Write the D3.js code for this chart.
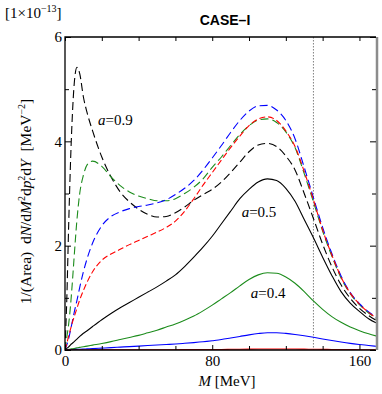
<!DOCTYPE html>
<html>
<head>
<meta charset="utf-8">
<script src="https://cdn.jsdelivr.net/npm/d3@7"></script>
<style>
body { margin: 0; background: #fff; }
text { font-family: "Liberation Serif", "Times New Roman", serif; }
</style>
</head>
<body>
<script>
// pair mass M [MeV], shared grid for all curves
var massGrid = [0, 1, 2, 3, 4, 5, 6.5, 8, 10, 12, 15, 20, 25, 30, 35, 40, 45, 50, 55, 60, 65,
                70, 75, 80, 85, 90, 95, 100, 105, 110, 115, 120, 125, 130, 135, 140, 145, 150, 155, 160, 165, 169];

// yields in units of 1e-13
var blackDashed = [0, 1.0, 2.4, 3.6, 4.5, 5.1, 5.42, 5.3, 4.85, 4.55, 4.2, 3.7, 3.32, 3.03, 2.84, 2.7, 2.6, 2.55, 2.56, 2.63, 2.74,
                   2.87, 2.98, 3.08, 3.22, 3.4, 3.6, 3.8, 3.93, 3.96, 3.9, 3.72, 3.45, 3.0, 2.52, 2.03, 1.6, 1.25, 0.99, 0.8, 0.66, 0.57];
var greenDashed = [0, 0.25, 0.5, 0.85, 1.3, 1.8, 2.5, 3.0, 3.35, 3.55, 3.62, 3.52, 3.32, 3.15, 3.03, 2.95, 2.9, 2.86, 2.86, 2.9, 3.0,
                   3.12, 3.28, 3.5, 3.7, 3.92, 4.13, 4.3, 4.41, 4.43, 4.36, 4.18, 3.88, 3.38, 2.84, 2.28, 1.8, 1.38, 1.08, 0.87, 0.71, 0.61];
var blueDashed = [0, 0.1, 0.22, 0.38, 0.55, 0.72, 0.95, 1.2, 1.5, 1.75, 2.05, 2.38, 2.56, 2.65, 2.71, 2.75, 2.78, 2.82, 2.88, 2.98, 3.1,
                  3.25, 3.45, 3.68, 3.92, 4.17, 4.4, 4.58, 4.68, 4.69, 4.6, 4.4, 4.05, 3.5, 2.92, 2.35, 1.85, 1.42, 1.1, 0.89, 0.73, 0.63];
var redDashed = [0, 0.13, 0.27, 0.4, 0.53, 0.64, 0.8, 0.96, 1.14, 1.3, 1.5, 1.72, 1.84, 1.93, 2.02, 2.1, 2.18, 2.26, 2.35, 2.47, 2.66,
                 2.9, 3.16, 3.4, 3.64, 3.88, 4.1, 4.3, 4.43, 4.47, 4.4, 4.2, 3.9, 3.42, 2.88, 2.3, 1.82, 1.4, 1.09, 0.88, 0.72, 0.62];
var blackSolid = [0, 0.03, 0.06, 0.1, 0.13, 0.16, 0.21, 0.26, 0.32, 0.37, 0.45, 0.58, 0.7, 0.81, 0.91, 1.01, 1.11, 1.21, 1.32, 1.44, 1.6,
                  1.78, 1.97, 2.18, 2.42, 2.66, 2.9, 3.08, 3.22, 3.28, 3.25, 3.1, 2.85, 2.5, 2.15, 1.78, 1.43, 1.12, 0.9, 0.74, 0.6, 0.52];
var greenSolid = [0, 0.006, 0.012, 0.018, 0.024, 0.03, 0.04, 0.05, 0.062, 0.075, 0.094, 0.125, 0.16, 0.2, 0.24, 0.28, 0.33, 0.38, 0.44, 0.5, 0.57,
                  0.65, 0.75, 0.86, 0.98, 1.1, 1.23, 1.35, 1.44, 1.48, 1.47, 1.4, 1.28, 1.12, 0.94, 0.78, 0.64, 0.53, 0.44, 0.37, 0.31, 0.27];
var blueSolid = [0, 0.002, 0.004, 0.006, 0.008, 0.01, 0.012, 0.015, 0.018, 0.022, 0.027, 0.036, 0.045, 0.055, 0.065, 0.075, 0.085, 0.095, 0.105, 0.115, 0.128,
                 0.142, 0.158, 0.178, 0.2, 0.23, 0.26, 0.29, 0.315, 0.33, 0.33, 0.318, 0.298, 0.272, 0.243, 0.212, 0.182, 0.153, 0.127, 0.105, 0.085, 0.072];
var redSolid = [0, 0, 0, 0, 0, 0.001, 0.001, 0.001, 0.001, 0.001, 0.002, 0.002, 0.003, 0.003, 0.004, 0.004, 0.005, 0.005, 0.006, 0.006, 0.007,
                0.008, 0.009, 0.01, 0.011, 0.013, 0.015, 0.017, 0.019, 0.02, 0.02, 0.019, 0.018, 0.016, 0.014, 0.012, 0.011, 0.009, 0.008, 0.006, 0.005, 0.004];

var xTicks = [0, 80, 160];
var yTicks = [0, 2, 4, 6];
var pionMass = 135;

var margin = {top: 37, right: 6, bottom: 44, left: 65}
  , width = 382 - margin.left - margin.right
  , height = 394 - margin.top - margin.bottom;

var svg = d3.select("body").append("svg")
    .attr("width", 382)
    .attr("height", 394);

var g = svg.append("g")
    .attr("transform", "translate(" + margin.left + "," + margin.top + ")");

var x = d3.scaleLinear().domain([0, 169]).range([0, width]);
var y = d3.scaleLinear().domain([0, 6]).range([height, 0]);

g.append("clipPath").attr("id", "clip")
  .append("rect").attr("width", width).attr("height", height);

// order: dashed first, solid after, red solid on top
var series = [
    {vals: blackDashed, color: "#000000", dash: "8,4"},
    {vals: greenDashed, color: "#1c8c1c", dash: "8,4"},
    {vals: blueDashed, color: "#0000ff", dash: "8,4"},
    {vals: redDashed, color: "#ff0000", dash: "6,3"},
    {vals: blackSolid, color: "#000000", dash: null},
    {vals: greenSolid, color: "#1c8c1c", dash: null},
    {vals: blueSolid, color: "#0000ff", dash: null},
    {vals: redSolid, color: "#ff0000", dash: null}
];

var line = d3.line()
    .x(function (d, i) { return x(massGrid[i]); })
    .y(function (d) { return y(d); })
    .curve(d3.curveMonotoneX);

// pion mass marker
g.append("line")
    .attr("x1", x(pionMass)).attr("x2", x(pionMass))
    .attr("y1", 0).attr("y2", height)
    .attr("stroke", "#808080")
    .attr("stroke-width", 1)
    .attr("stroke-dasharray", "1.5,1.5");

g.append("g").attr("clip-path", "url(#clip)")
  .selectAll(".curve")
    .data(series)
    .enter().append("path")
    .attr("class", "curve")
    .attr("d", function (d) { return line(d.vals); })
    .attr("fill", "none")
    .attr("stroke", function (d) { return d.color; })
    .attr("stroke-width", 1.1)
    .attr("stroke-dasharray", function (d) { return d.dash; });

// frame
g.append("path")
    .attr("d", "M" + width + ",0H0V" + height + "H" + width)
    .attr("fill", "none")
    .attr("stroke", "#000")
    .attr("stroke-width", 1.3);
g.append("line")
    .attr("x1", width + 1).attr("x2", width + 1)
    .attr("y1", 0).attr("y2", height)
    .attr("stroke", "#8c8c8c")
    .attr("stroke-width", 2.5);

// ticks, all pointing inward
function ticks(axis, tx, vals, size, labels) {
    var a = g.append("g")
        .attr("transform", tx)
        .call(axis.tickValues(vals).tickSizeInner(-size).tickSizeOuter(0)
              .tickPadding(labels ? 5 : 0)
              .tickFormat(labels ? d3.format("d") : ""));
    a.select(".domain").remove();
    a.selectAll("line").attr("stroke", "#000").attr("stroke-width", 1);
    a.selectAll("text").style("font-family", "Liberation Serif, serif").style("font-size", "15px").attr("fill", "#000");
    return a;
}
var xMinor = d3.range(20, 169, 20).filter(function (v) { return xTicks.indexOf(v) < 0; });
var yMinor = [1, 3, 5];

ticks(d3.axisBottom(x), "translate(0," + height + ")", xTicks, 5, true);
ticks(d3.axisBottom(x), "translate(0," + height + ")", xMinor, 4, false);
ticks(d3.axisTop(x), "translate(0,0)", xTicks.concat(xMinor), 4, false);
ticks(d3.axisLeft(y), "translate(0,0)", yTicks, 6, true).selectAll("text").attr("x", -3);
ticks(d3.axisLeft(y), "translate(0,0)", yMinor, 4, false);
ticks(d3.axisRight(y), "translate(" + width + ",0)", yTicks, 6, false);
ticks(d3.axisRight(y), "translate(" + width + ",0)", yMinor, 4, false);

// curve labels
var curveLabels = [
    {text: "0.9", m: 18, v: 4.31},
    {text: "0.5", m: 96, v: 2.55},
    {text: "0.4", m: 101, v: 1.0}
];
var lab = g.selectAll(".clabel")
    .data(curveLabels)
    .enter().append("text")
    .attr("class", "clabel")
    .attr("x", function (d) { return x(d.m); })
    .attr("y", function (d) { return y(d.v); })
    .style("font-size", "15px");
lab.append("tspan").style("font-style", "italic").text("a");
lab.append("tspan").text(function (d) { return "=" + d.text; });

// scale factor header
var hdr = svg.append("text")
    .attr("x", 5).attr("y", 18)
    .style("font-size", "15px");
hdr.append("tspan").text("[1×10");
hdr.append("tspan").attr("dy", -6).style("font-size", "10px").text("−13");
hdr.append("tspan").attr("dy", 6).text("]");

// title
svg.append("text")
    .attr("x", 225).attr("y", 25)
    .attr("text-anchor", "middle")
    .style("font-family", "Liberation Sans, Arial, sans-serif")
    .style("font-weight", "bold")
    .style("font-size", "14px")
    .text("CASE–I");

// x label
var xl = svg.append("text")
    .attr("x", margin.left + x(88)).attr("y", 386)
    .attr("text-anchor", "middle")
    .style("font-size", "15px");
xl.append("tspan").style("font-style", "italic").text("M");
xl.append("tspan").text(" [MeV]");

// y label
var yl = svg.append("text")
    .attr("transform", "translate(31," + (margin.top + height / 2 + 8) + ") rotate(-90)")
    .attr("text-anchor", "middle")
    .style("font-size", "15.5px");
yl.append("tspan").text("1/(Area)\u00a0\u00a0d");
yl.append("tspan").style("font-style", "italic").text("N");
yl.append("tspan").text("/d");
yl.append("tspan").style("font-style", "italic").text("M");
yl.append("tspan").attr("dy", -6).style("font-size", "10px").text("2");
yl.append("tspan").attr("dy", 6).text("d");
yl.append("tspan").style("font-style", "italic").text("p");
yl.append("tspan").attr("dy", 4).style("font-size", "10px").style("font-style", "italic").text("t");
yl.append("tspan").attr("dy", -10).attr("dx", -3).style("font-size", "10px").text("2");
yl.append("tspan").attr("dy", 6).text("d");
yl.append("tspan").style("font-style", "italic").text("Y");
yl.append("tspan").text("\u00a0\u00a0[MeV");
yl.append("tspan").attr("dy", -6).style("font-size", "10px").text("−2");
yl.append("tspan").attr("dy", 6).text("]");
</script>
</body>
</html>
